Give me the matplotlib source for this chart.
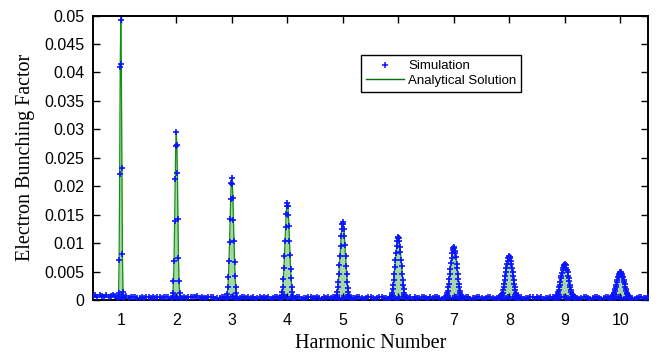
import numpy as np
import matplotlib
matplotlib.use('Agg')
import matplotlib.pyplot as plt

# peak profiles, units of 1e-4, samples every 0.01 in harmonic number
harmonics = [1, 2, 3, 4, 5, 6, 7, 8, 9, 10]
peak1 = [4, 13, 70, 222, 410, 492, 415, 232, 80, 14, 4]
peak2 = [4, 13, 33, 68, 138, 213, 271, 296, 272, 223, 142, 73, 33, 12, 4]
peak3 = [2, 5, 11, 22, 40, 69, 102, 143, 178, 206, 215, 204, 180, 141, 104, 67, 42, 23, 12, 5, 2]
peak4 = [2, 4, 8, 14, 23, 37, 56, 78, 104, 129, 151, 166, 171, 166, 150, 130, 103, 79, 55, 38,
         22, 14, 7, 4, 2]
peak5 = [2, 3, 5, 9, 14, 22, 32, 45, 61, 78, 95, 112, 125, 134, 137, 134, 125, 112, 96, 77,
         60, 46, 32, 21, 14, 9, 5, 3, 2]
peak6 = [1, 2, 3, 5, 9, 13, 19, 26, 36, 46, 58, 71, 83, 95, 103, 109, 111, 109, 104, 94,
         84, 70, 59, 46, 35, 27, 19, 13, 8, 5, 3, 2, 1]
peak7 = [1, 2, 4, 6, 8, 12, 16, 22, 29, 37, 46, 55, 65, 74, 82, 88, 92, 93, 92, 87,
         82, 75, 64, 56, 45, 37, 29, 22, 16, 12, 8, 5, 4, 2, 1]
peak8 = [1, 1, 2, 3, 5, 7, 10, 13, 18, 23, 29, 35, 42, 50, 57, 63, 69, 73, 76, 77,
         76, 74, 69, 64, 56, 49, 43, 35, 28, 23, 17, 13, 10, 7, 5, 3, 2, 1, 1]
peak9 = [1, 1, 2, 3, 4, 6, 8, 11, 14, 18, 22, 27, 32, 38, 43, 48, 53, 57, 60, 62, 63,
         62, 61, 56, 53, 49, 42, 38, 33, 26, 22, 17, 14, 11, 8, 6, 4, 3, 2, 1, 1]
peak10 = [1, 1, 2, 2, 3, 5, 6, 8, 10, 13, 16, 20, 23, 27, 32, 36, 40, 43, 46, 48, 50,
          49, 48, 46, 42, 40, 35, 32, 28, 23, 19, 16, 13, 10, 8, 6, 4, 3, 2, 1, 1]
peaks = [peak1, peak2, peak3, peak4, peak5, peak6, peak7, peak8, peak9, peak10]

# simulation noise floor between the peaks, units of 1e-4, spread evenly over 0.5..10.5
noise = ("78697586787656574656435455364654556465453646565745"
         "43565234654365423564536245364523654376254365243654"
         "35426354635243652436542365423654326542365436254365"
         "42536542365436524365243654236542365436254365243562"
         "53624365423654326542365423654236542365423654236544"
         "5")
noise_vals = [int(c) for c in noise]

yticks = [0, 0.005, 0.01, 0.015, 0.02, 0.025, 0.03, 0.035, 0.04, 0.045, 0.05]
ytick_labels = ['0', '0.005', '0.01', '0.015', '0.02', '0.025', '0.03', '0.035', '0.04', '0.045', '0.05']

# analytical curve on a 0.01 grid, zero away from the peaks
x_grid = np.round(np.arange(0.5, 10.5001, 0.01), 2)
y_grid = np.zeros_like(x_grid)
sim_x, sim_y = [], []
for n, p in zip(harmonics, peaks):
    offs = (np.arange(len(p)) - len(p) // 2) * 0.01
    xs = np.round(n + offs, 2)
    vals = np.array(p) * 1e-4
    idx = np.searchsorted(x_grid, xs - 1e-6)
    y_grid[idx] = vals
    sim_x.extend(xs)
    sim_y.extend(vals)

noise_x = np.linspace(0.5, 10.5, len(noise_vals))
noise_y = np.array(noise_vals) * 1e-4

fig = plt.figure(figsize=(6.63, 3.54), dpi=100)
ax = fig.add_axes([0.1403, 0.1525, 0.8371, 0.8037])

ax.fill_between(x_grid, 0, y_grid, color='#a6d8a6', lw=0, zorder=1)
ax.plot(x_grid, y_grid, color='#119011', lw=0.9, zorder=2)
ax.plot(noise_x, noise_y, ls='none', marker='+', ms=4.5, mew=1.2, color='#0a14ff', zorder=3)
ax.plot(sim_x, sim_y, ls='none', marker='+', ms=4.5, mew=1.2, color='#0a14ff', zorder=3)

ax.set_xlim(0.5, 10.5)
ax.set_ylim(0, 0.05)
ax.set_xticks(harmonics)
ax.set_xticklabels([str(h) for h in harmonics], family='Liberation Sans', fontsize=11.5)
ax.set_yticks(yticks)
ax.set_yticklabels(ytick_labels, family='Liberation Sans', fontsize=11.5)
ax.tick_params(direction='in', top=True, right=True, length=5, width=1)
ax.tick_params(axis='x', pad=9)
ax.tick_params(axis='y', pad=6)
for s in ax.spines.values():
    s.set_linewidth(1.4)

ax.set_xlabel('Harmonic Number', family='Liberation Serif', fontsize=14.5, labelpad=5)
ax.set_ylabel('Electron Bunching Factor', family='Liberation Serif', fontsize=14.5, labelpad=7)

h_sim, = ax.plot([], [], ls='none', marker='+', ms=4, mew=1.1, color='#0a14ff')
h_ana, = ax.plot([], [], color='#0b6b0b', lw=1)
leg = ax.legend([h_sim, h_ana], ['Simulation', 'Analytical Solution'], loc='upper left',
                bbox_to_anchor=(0.483, 0.86), numpoints=1, handlelength=2.9,
                prop={'family': 'Liberation Sans', 'size': 9.5}, fancybox=False,
                framealpha=1, edgecolor='black', borderpad=0.35, labelspacing=0.2,
                handletextpad=0.3, borderaxespad=0)
leg.get_frame().set_linewidth(1.0)

fig.savefig('out.png', dpi=100)
